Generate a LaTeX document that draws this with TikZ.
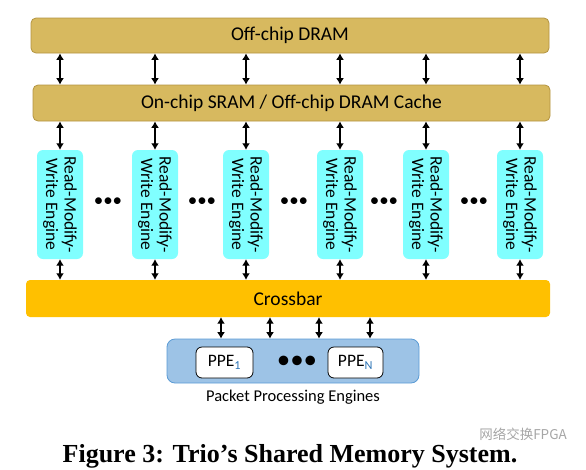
\documentclass[tikz,border=0pt]{standalone}
\usepackage{fontspec}
\setmainfont{Carlito}
\newfontfamily\capfont{Liberation Serif}
\newfontfamily\cjkfont{Noto Sans CJK SC}
\usepackage{tikz}
\usetikzlibrary{arrows,arrows.meta,positioning,shapes}

\definecolor{dramgold}{HTML}{D7B95F}
\definecolor{dramedge}{HTML}{B39441}
\definecolor{rmwcyan}{HTML}{80FFFF}
\definecolor{xbargold}{HTML}{FFC000}
\definecolor{ppeblue}{HTML}{9DC3E6}
\definecolor{ppeedge}{HTML}{5B9BD5}
\definecolor{subblue}{HTML}{2E75B6}
\definecolor{markgray}{HTML}{A6A6A6}

\begin{document}
\begin{tikzpicture}[x=1pt,y=-1pt,
            mem/.style={draw=dramedge,fill=dramgold,rounded corners=5pt,line width=.8pt,
              inner sep=0pt,font=\fontsize{19.5}{22}\selectfont},
            rmw/.style={fill=rmwcyan,rounded corners=6pt,minimum width=109pt,minimum height=46pt,
              inner sep=0pt,rotate=-90,align=center,font=\fontsize{17.5}{18.5}\selectfont},
            gap/.style={inner sep=0pt,font=\fontsize{19}{19}\selectfont},
            xbar/.style={fill=xbargold,rounded corners=4pt,minimum width=524pt,minimum height=37pt,
              inner sep=0pt,font=\fontsize{19.5}{22}\selectfont},
            group/.style={draw=ppeedge,fill=ppeblue,rounded corners=8pt,line width=.8pt,
              minimum width=252pt,minimum height=44pt,inner sep=0pt},
            ppe/.style={draw,fill=white,rounded corners=6pt,line width=.8pt,minimum height=31pt,
              inner sep=0pt,font=\fontsize{17.5}{19}\selectfont},
            lab/.style={inner sep=0pt,font=\fontsize{16.5}{18}\selectfont,node distance=6pt},
            link/.style={{Latex[length=6.5pt,width=8pt]}-{Latex[length=6.5pt,width=8pt]},line width=1.5pt}
          ]
          \useasboundingbox (0,0) rectangle (586,469);

          %memory
          \node[mem,minimum width=518pt,minimum height=35pt] (dram) at (290,35.5) {Off-chip DRAM};
          \node[mem,minimum width=517pt,minimum height=36pt] (sram) at (291.5,103) {On-chip SRAM / Off-chip DRAM Cache};

          %engines
          \node[rmw] (e1) at (60,204.5) {Read-Modify-\\Write Engine};
          \node[rmw] (e2) at (155,204.5) {Read-Modify-\\Write Engine};
          \node[rmw] (e3) at (246,204.5) {Read-Modify-\\Write Engine};
          \node[rmw] (e4) at (340,204.5) {Read-Modify-\\Write Engine};
          \node[rmw] (e5) at (426,204.5) {Read-Modify-\\Write Engine};
          \node[rmw] (e6) at (520,204.5) {Read-Modify-\\Write Engine};
          \node[gap] (g1) at (108,202) {\textbullet\textbullet\textbullet};
          \node[gap] (g2) at (202,202) {\textbullet\textbullet\textbullet};
          \node[gap] (g3) at (294,202) {\textbullet\textbullet\textbullet};
          \node[gap] (g4) at (384,202) {\textbullet\textbullet\textbullet};
          \node[gap] (g5) at (474,202) {\textbullet\textbullet\textbullet};

          %crossbar
          \node[xbar] (xbar) at (288,298.5) {Crossbar};

          %packet processing engines
          \node[group] (grp) at (293,361) {};
          \node[ppe,minimum width=57pt] (ppe1) at (224.5,362.5) {PPE\textsubscript{\color{subblue}1}};
          \node[ppe,minimum width=55pt] (ppen) at (355.5,362.5) {PPE\textsubscript{\color{subblue}N}};
          \node[inner sep=0pt,font=\fontsize{27}{27}\selectfont] (pdots) at (297,362) {\textbullet\textbullet\textbullet};
          \node[lab,below=of grp] (plab) {Packet Processing Engines};
          \coordinate (p1) at (221,330);
          \coordinate (p2) at (270,330);
          \coordinate (p3) at (319,330);
          \coordinate (p4) at (370,330);

          %caption
          \node[inner sep=0pt,font=\capfont\bfseries\fontsize{26}{28}\selectfont] (cap) at (290,456)
            {Figure 3: Trio’s Shared Memory System.};
          \node[inner sep=0pt,text=markgray,font=\cjkfont\fontsize{13.5}{15}\selectfont] (mark) at (523,434) {网络交换FPGA};

          %links
          \path[link]
          (dram.south -| e1) edge (sram.north -| e1)
          (dram.south -| e2) edge (sram.north -| e2)
          (dram.south -| e3) edge (sram.north -| e3)
          (dram.south -| e4) edge (sram.north -| e4)
          (dram.south -| e5) edge (sram.north -| e5)
          (dram.south -| e6) edge (sram.north -| e6)
          (sram.south -| e1) edge (e1.west)
          (sram.south -| e2) edge (e2.west)
          (sram.south -| e3) edge (e3.west)
          (sram.south -| e4) edge (e4.west)
          (sram.south -| e5) edge (e5.west)
          (sram.south -| e6) edge (e6.west)
          (e1.east) edge (xbar.north -| e1)
          (e2.east) edge (xbar.north -| e2)
          (e3.east) edge (xbar.north -| e3)
          (e4.east) edge (xbar.north -| e4)
          (e5.east) edge (xbar.north -| e5)
          (e6.east) edge (xbar.north -| e6)
          (xbar.south -| p1) edge (grp.north -| p1)
          (xbar.south -| p2) edge (grp.north -| p2)
          (xbar.south -| p3) edge (grp.north -| p3)
          (xbar.south -| p4) edge (grp.north -| p4)
          ;

      \end{tikzpicture}
\end{document}
